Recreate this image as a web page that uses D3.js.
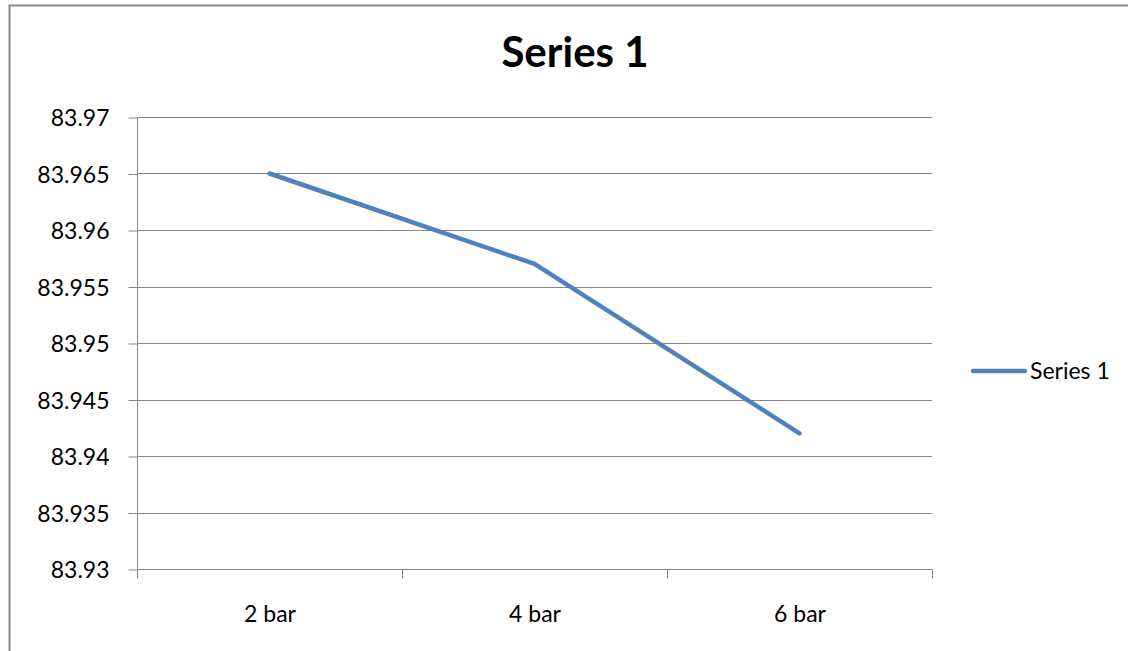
<!DOCTYPE html>
<html>
<head>
<meta charset="utf-8">
<script src="https://cdn.jsdelivr.net/npm/d3@7"></script>
<style>
  html, body { margin: 0; padding: 0; background: #fff; }
  svg { display: block; font-family: Lato, "Open Sans", sans-serif; }
</style>
</head>
<body>
<svg id="chart" width="1128" height="651"></svg>
<script>
// Pressure setting for each measurement
const categories = ["2 bar", "4 bar", "6 bar"];
// Measured value at each pressure
const seriesValues = [83.965, 83.957, 83.942];
const seriesName = "Series 1";
// Value-axis ticks
const yTicks = [83.93, 83.935, 83.94, 83.945, 83.95, 83.955, 83.96, 83.965, 83.97];

const svg = d3.select("#chart");
const W = 1128, H = 651;
const plot = { left: 137, right: 932, top: 117, bottom: 569 };
const gridColor = "#868686";
const lineColor = "#4f81bd";
const labelSize = "23px";

// Outer chart frame
svg.append("rect")
  .attr("x", 9.5).attr("y", 5.5)
  .attr("width", W + 10).attr("height", H + 10)
  .attr("fill", "#fff").attr("stroke", "#8c8c8c").attr("stroke-width", 2);

const x = d3.scaleBand().domain(categories).range([plot.left, plot.right]);
const y = d3.scaleLinear().domain([yTicks[0], yTicks[yTicks.length - 1]]).range([plot.bottom, plot.top]);

// Horizontal gridlines
svg.append("g").selectAll("line").data(yTicks.slice(1)).join("line")
  .attr("x1", plot.left).attr("x2", plot.right)
  .attr("y1", d => Math.round(y(d)) + 0.5).attr("y2", d => Math.round(y(d)) + 0.5)
  .attr("stroke", gridColor).attr("stroke-width", 1);

// Value axis
const yAxis = svg.append("g")
  .attr("transform", `translate(${plot.left + 0.5},0.5)`)
  .call(d3.axisLeft(y).tickValues(yTicks).tickSize(9).tickPadding(19)
    .tickFormat(d => d3.format("")(+d.toFixed(3))));
yAxis.attr("font-family", null).attr("font-size", null);
yAxis.select(".domain").attr("stroke", gridColor).attr("d", `M0,${plot.top}V${plot.bottom}`);
yAxis.selectAll(".tick line").attr("stroke", gridColor);
yAxis.selectAll(".tick text").attr("fill", "#000").style("font-size", labelSize).attr("dy", "0.35em");

// Category axis with ticks at band boundaries
const xAxisG = svg.append("g").attr("transform", `translate(0.5,${plot.bottom + 0.5})`);
xAxisG.append("line").attr("x1", plot.left).attr("x2", plot.right)
  .attr("stroke", gridColor);
const bounds = categories.map(c => x(c)).concat([x(categories[categories.length - 1]) + x.bandwidth()]);
xAxisG.selectAll("line.tk").data(bounds).join("line").attr("class", "tk")
  .attr("x1", d => Math.round(d)).attr("x2", d => Math.round(d))
  .attr("y1", 0).attr("y2", 9).attr("stroke", gridColor);
xAxisG.selectAll("text").data(categories).join("text")
  .attr("x", d => x(d) + x.bandwidth() / 2).attr("y", 52)
  .attr("text-anchor", "middle").style("font-size", labelSize).attr("fill", "#000")
  .text(d => d);

// Series line
const line = d3.line().x((d, i) => x(categories[i]) + x.bandwidth() / 2).y(d => y(d));
svg.append("path").datum(seriesValues)
  .attr("d", line).attr("fill", "none")
  .attr("stroke", lineColor).attr("stroke-width", 4.5)
  .attr("stroke-linejoin", "round").attr("stroke-linecap", "round");

// Title
svg.append("text").attr("x", 575).attr("y", 67)
  .attr("text-anchor", "middle").style("font-size", "42px").style("font-weight", "bold")
  .text(seriesName);

// Legend
const lg = svg.append("g").attr("transform", "translate(0,371)");
lg.append("line").attr("x1", 973).attr("x2", 1025).attr("y1", 0).attr("y2", 0)
  .attr("stroke", lineColor).attr("stroke-width", 4.5).attr("stroke-linecap", "round");
lg.append("text").attr("x", 1030).attr("y", 0).attr("dy", "0.35em")
  .style("font-size", labelSize).text(seriesName);
</script>
</body>
</html>
